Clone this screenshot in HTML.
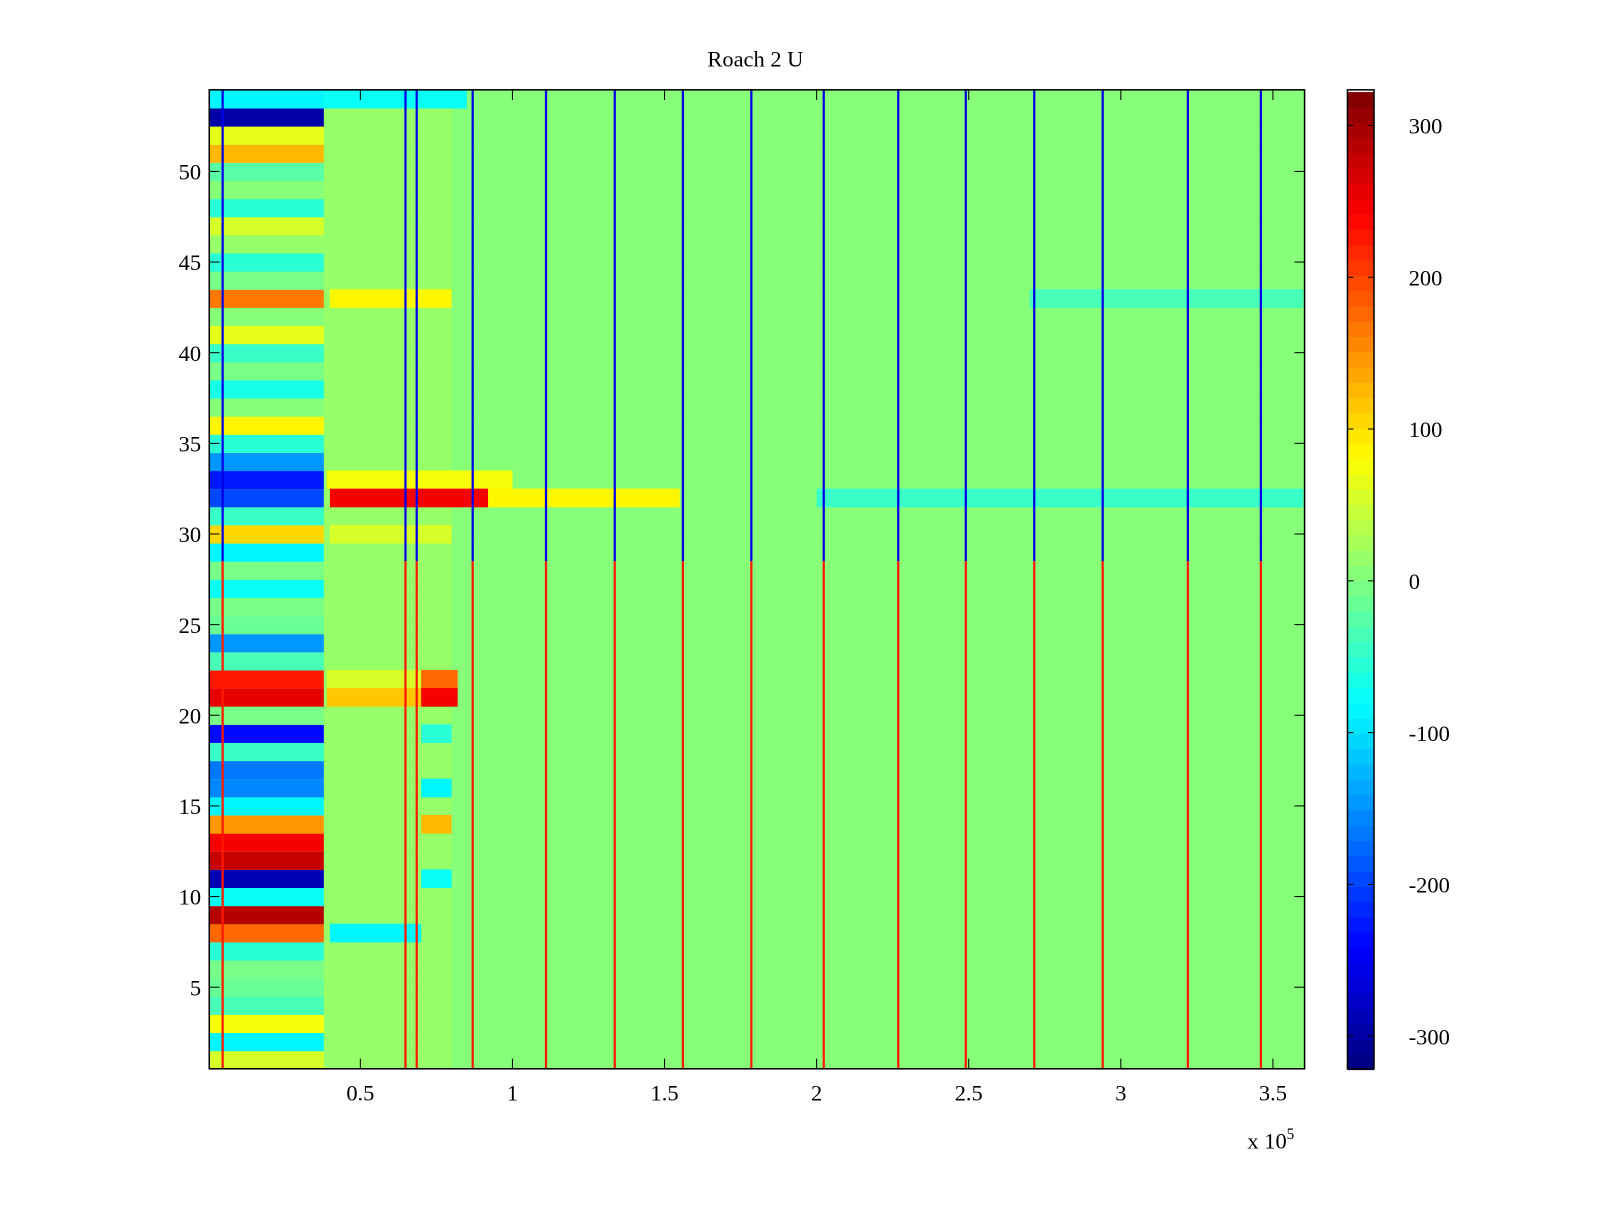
<!DOCTYPE html>
<html><head><meta charset="utf-8"><style>
body{margin:0;background:#fff;width:1600px;height:1200px;overflow:hidden}
text{font-family:"Liberation Serif",serif;font-size:22px;fill:#000}
</style></head><body>
<svg id="svg" width="1600" height="1200" xmlns="http://www.w3.org/2000/svg">
<rect width="1600" height="1200" fill="#fff"/>
<g transform="scale(1.0208)">
<g id="cells"></g>
<g id="cbar"></g>
<g id="axes"></g>
<text x="740" y="65" text-anchor="middle">Roach 2 U</text>
<text x="1222" y="1125">x 10<tspan dy="-9" font-size="15">5</tspan></text>
</g>
</svg>
<script>
// row values (rows 1..54) for the left block 0..3.8e4
const leftVals=[60,-90,80,-40,-20,-10,-60,180,290,-80,-290,280,250,150,-90,-160,-170,-50,-240,0,260,230,-40,-150,-20,0,-80,0,-90,110,-50,-200,-230,-150,-60,90,10,-70,0,-50,70,10,170,0,-60,20,60,-60,10,-30,130,70,-300,-90];
// overrides: [row, x0 (1e4), x1 (1e4), value]
const overrides=[[33,3.9,10,80],[32,4,9.2,250],[32,9.2,15.5,90],[32,20,36,-50],[22,3.9,7,60],[22,7,8.2,180],[21,3.9,7,120],[21,7,8.2,250],[8,4,7,-90],[30,4,8,60],[43,4,8,90],[43,27,36,-40],[54,3.8,8.5,-80],[14,7,8,130],[19,7,8,-60],[16,7,8,-90],[11,7,8,-80]];
const midVal=15, bgVal=5;
// vertical stripe positions (1e4)
const stripes=[0.47,6.48,6.85,8.69,11.1,13.36,15.6,17.85,20.23,22.68,24.9,27.15,29.4,32.2,34.6];
const stripeTop=-260, stripeBottom=230, stripeSplitRow=28;
const cbTicks=[300,200,100,0,-100,-200,-300];
const xTicks=[0.5,1,1.5,2,2.5,3,3.5];
const yTicks=[5,10,15,20,25,30,35,40,45,50];

const L=205,R=1278,T=88,B=1047;
const xs=v=>204+v*29.8; // v in 1e4
const ys=r=>T+(54.5-r)*(B-T)/54;
const cmin=-322,cmax=322;
function jet(v){let t=(v-cmin)/(cmax-cmin);t=Math.max(0,Math.min(1,t));t=(Math.floor(t*63.999)+0.5)/64;
const c=x=>Math.round(255*Math.max(0,Math.min(1,1.5-Math.abs(4*t-x))));return `rgb(${c(3)},${c(2)},${c(1)})`;}
const NS='http://www.w3.org/2000/svg';
function rect(p,x,y,w,h,f){const r=document.createElementNS(NS,'rect');r.setAttribute('x',x);r.setAttribute('y',y);r.setAttribute('width',w);r.setAttribute('height',h);r.setAttribute('fill',f);p.appendChild(r);return r;}
const cells=document.getElementById('cells');
const rh=(B-T)/54;
for(let r=1;r<=54;r++){
  const y=ys(r+0.5);
  let e=rect(cells,L,y,R-L,rh+0.5,jet(bgVal));
  
  
  e=rect(cells,xs(3.8),y,xs(8)-xs(3.8),rh+0.5,jet(midVal));
  
  
  e=rect(cells,L,y,xs(3.8)-L,rh+0.5,jet(leftVals[r-1]));
  
  
}
overrides.forEach(o=>{const e=rect(cells,xs(o[1]),ys(o[0]+0.5),xs(o[2])-xs(o[1]),rh+0.5,jet(o[3]));
  
  });
stripes.forEach(s=>{
  let e=rect(cells,xs(s)-1,T,2.2,ys(stripeSplitRow+0.5)-T,jet(stripeTop));
  
  
  e=rect(cells,xs(s)-1,ys(stripeSplitRow+0.5),2.2,B-ys(stripeSplitRow+0.5),jet(stripeBottom));
  
  
});
const ax=document.getElementById('axes');
let h='<rect x="'+L+'" y="'+T+'" width="'+(R-L)+'" height="'+(B-T)+'" fill="none" stroke="#000" stroke-width="1.5"/>';
xTicks.forEach(t=>{const x=xs(t*10);h+=`<line x1="${x}" y1="${B}" x2="${x}" y2="${B-10}" stroke="#000"/><line x1="${x}" y1="${T}" x2="${x}" y2="${T+10}" stroke="#000"/><text x="${x}" y="${B+31}" text-anchor="middle">${t}</text>`;});
yTicks.forEach(t=>{const y=ys(t);h+=`<line x1="${L}" y1="${y}" x2="${L+10}" y2="${y}" stroke="#000"/><line x1="${R}" y1="${y}" x2="${R-10}" y2="${y}" stroke="#000"/><text x="${L-8}" y="${y+8}" text-anchor="end">${t}</text>`;});
ax.innerHTML=h;
const cb=document.getElementById('cbar');
const cbY=v=>569-v*1.487;
for(let i=0;i<64;i++){const v0=cmin+(cmax-cmin)*i/64,v1=cmin+(cmax-cmin)*(i+1)/64;
  const e=rect(cb,1320,cbY(v1),26,cbY(v0)-cbY(v1)+0.5,jet((v0+v1)/2));
  
  }
let c='<rect x="1320" y="88" width="26" height="959" fill="none" stroke="#000" stroke-width="1.5"/>';
cbTicks.forEach(t=>{const y=cbY(t);c+=`<line x1="1320" y1="${y}" x2="1326" y2="${y}" stroke="#000"/><line x1="1346" y1="${y}" x2="1340" y2="${y}" stroke="#000"/><text x="1380" y="${y+8}">${t}</text>`;});
cb.insertAdjacentHTML('beforeend',c);
</script>
</body></html>
